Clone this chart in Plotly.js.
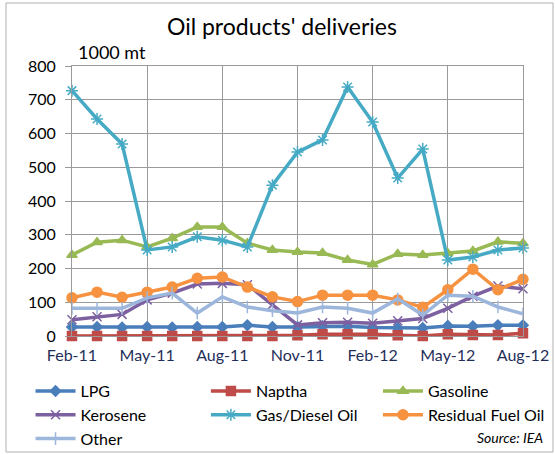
<!DOCTYPE html>
<html><head><meta charset="utf-8">
<script src="https://cdn.plot.ly/plotly-3.0.1.min.js"></script>
<style>body{margin:0;background:#fff}#chart{width:555px;height:454px}</style>
</head><body><div id="chart"></div>
<script>
var months = ["Feb-11","Mar-11","Apr-11","May-11","Jun-11","Jul-11","Aug-11","Sep-11","Oct-11","Nov-11","Dec-11","Jan-12","Feb-12","Mar-12","Apr-12","May-12","Jun-12","Jul-12","Aug-12"];
var tickLabels = ["Feb-11","May-11","Aug-11","Nov-11","Feb-12","May-12","Aug-12"];
var lpg      = [27,27,25,27,25,27,27,32,27,27,29,29,25,24,24,30,29,32,32];
var naptha   = [0,0,0,0,0,0,0,0,0,2,5,5,5,2,0,5,3,3,8];
var gasoline = [240,278,284,264,290,323,323,275,255,249,246,225,212,243,240,245,252,279,275];
var kerosene = [48,57,64,107,127,154,156,152,93,33,39,41,38,45,52,82,118,148,140];
var gasDiesel= [727,643,569,255,264,294,284,264,447,545,581,738,634,468,554,225,234,255,261];
var residual = [113,130,115,130,145,171,175,145,116,102,121,121,121,107,85,137,198,137,168];
var other    = [82,82,82,113,127,68,116,86,75,68,86,82,68,110,62,121,118,86,66];

var idx = months.map(function(_, i){ return i; });
var tickIdx = tickLabels.map(function(t){ return months.indexOf(t); });

function tr(name, y, color, symbol, msize, leg){
  return {x: idx, y: y, name: name, type: 'scatter', mode: 'lines+markers',
    legend: leg, legendgroup: name,
    line: {color: color, width: 3.5},
    marker: {symbol: symbol, size: msize, color: color, line: {color: color, width: 1.5}},
    cliponaxis: false};
}
var data = [
  tr('LPG', lpg, '#4A7EBB', 'diamond', 8, 'legend'),
  tr('Naptha', naptha, '#BE4B48', 'square', 9, 'legend2'),
  tr('Gasoline', gasoline, '#98B954', 'triangle-up', 9, 'legend3'),
  tr('Kerosene', kerosene, '#7D60A0', 'x-thin-open', 9, 'legend'),
  tr('Gas/Diesel Oil', gasDiesel, '#46AAC5', 'asterisk-open', 10, 'legend2'),
  tr('Residual Fuel Oil', residual, '#F69240', 'circle', 10, 'legend3'),
  tr('Other', other, '#9DB6DB', 'line-ns-open', 9, 'legend')
];

function leg(x){
  return {orientation: 'v', x: x, xanchor: 'left', y: 0.176, yanchor: 'top',
    traceorder: 'normal', tracegroupgap: 2, itemwidth: 40,
    font: {size: 16, color: '#000'}, bgcolor: 'rgba(0,0,0,0)'};
}

var layout = {
  width: 555, height: 454,
  margin: {l: 0, r: 0, t: 0, b: 0, autoexpand: false},
  paper_bgcolor: '#fff', plot_bgcolor: '#fff',
  font: {family: 'Lato, "Open Sans", sans-serif', size: 16, color: '#000'},
  title: {text: "Oil products' deliveries", x: 0.508, xanchor: 'center', y: 0.94, yanchor: 'middle',
    font: {size: 23, color: '#000'}},
  xaxis: {domain: [0.1297, 0.9423], range: [0, 18], tickvals: tickIdx, ticktext: tickLabels, showgrid: true,
    gridcolor: '#9a9a9a', gridwidth: 1, showline: true, linecolor: '#9a9a9a', mirror: true,
    ticks: '', ticklabelstandoff: 5, zeroline: false, automargin: false, tickfont: {size: 16, color: '#1F2F5A'}},
  yaxis: {domain: [0.2599, 0.8546], range: [0, 800], dtick: 100, showgrid: true, gridcolor: '#9a9a9a', gridwidth: 1,
    showline: true, linecolor: '#9a9a9a', mirror: true, ticks: 'outside', ticklen: 6,
    tickcolor: '#9a9a9a', ticklabelstandoff: 6, zeroline: false, automargin: false, tickfont: {size: 16, color: '#000'}},
  showlegend: true,
  legend: leg(0.055),
  legend2: leg(0.371),
  legend3: leg(0.681),
  annotations: [
    {text: '1000 mt', xref: 'paper', yref: 'paper', x: 0.137, y: 0.885, xanchor: 'left', yanchor: 'middle',
      showarrow: false, font: {size: 18, color: '#000'}},
    {text: '<i>Source: IEA</i>', xref: 'paper', yref: 'paper', x: 0.982, y: 0.0374, xanchor: 'right', yanchor: 'middle',
      showarrow: false, font: {size: 14, color: '#000'}}
  ],
  shapes: [
    {type: 'rect', xref: 'paper', yref: 'paper', x0: 0.0108, x1: 0.9964, y0: 0.0044, y1: 0.9934,
      line: {color: '#b0b0b0', width: 1}}
  ]
};
Plotly.newPlot('chart', data, layout, {displayModeBar: false});
</script></body></html>
